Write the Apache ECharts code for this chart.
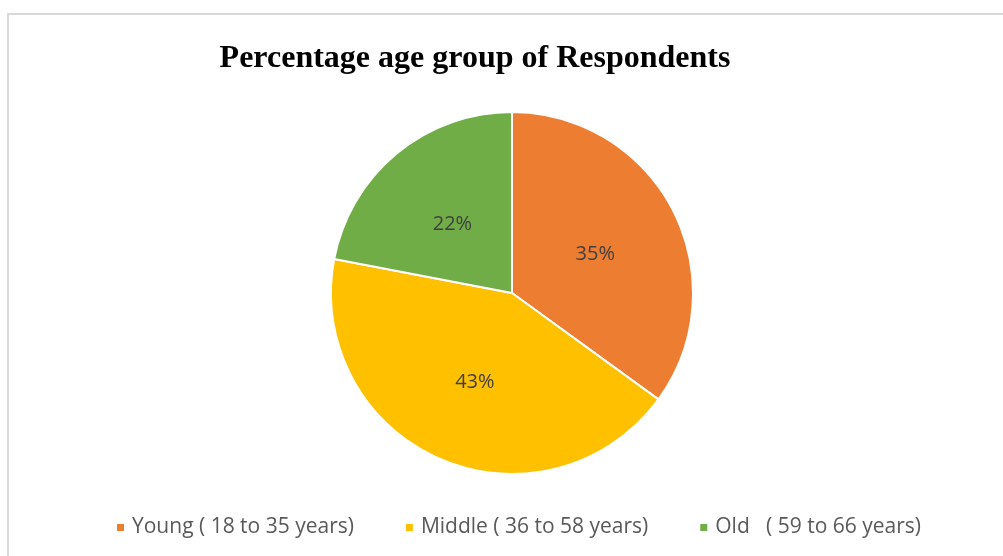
<!DOCTYPE html>
<html><head><meta charset="utf-8">
<script src="https://cdn.jsdelivr.net/npm/echarts@6/dist/echarts.min.js"></script>
<style>
html,body{margin:0;padding:0;background:#fff;}
#frame{position:absolute;left:7px;top:13px;width:1010px;height:560px;border:2px solid #d9d9d9;box-sizing:border-box;}
#c{position:absolute;left:0;top:0;width:1003px;height:556px;}
</style></head>
<body>
<div id="frame"></div>
<div id="c"></div>
<script>
const categories = ['Young ( 18 to 35 years)', 'Middle ( 36 to 58 years)', 'Old   ( 59 to 66 years)'];
const values = [35, 43, 22];
const colors = ['#ED7D31', '#FFC000', '#70AD47'];
const titleText = 'Percentage age group of Respondents';

const chart = echarts.init(document.getElementById('c'));
chart.setOption({
  animation: false,
  title: {
    text: titleText,
    left: 470, top: 38, textAlign: 'center',
    textStyle: {fontFamily: 'Liberation Serif', fontWeight: 'bold', fontSize: 32, color: '#000'}
  },
  legend: {
    bottom: 13, left: 110,
    itemWidth: 9, itemHeight: 9, itemGap: 50,
    icon: 'rect',
    textStyle: {fontFamily: 'Open Sans', fontSize: 21, color: '#595959', padding: [0,0,0,2]},
    data: categories
  },
  series: [{
    type: 'pie',
    center: [512, 293], radius: 181,
    startAngle: 90, clockwise: true,
    label: {position: 'inner', formatter: '{a|{d}%}',
      rich: {a: {fontFamily: 'Open Sans', fontSize: 20, color: '#404040', padding: [7,0,0,0]}}},
    labelLine: {show: false},
    itemStyle: {borderColor: '#fff', borderWidth: 2},
    data: categories.map((n, i) => ({name: n, value: values[i], itemStyle: {color: colors[i]}}))
  }]
});
</script>
</body></html>
